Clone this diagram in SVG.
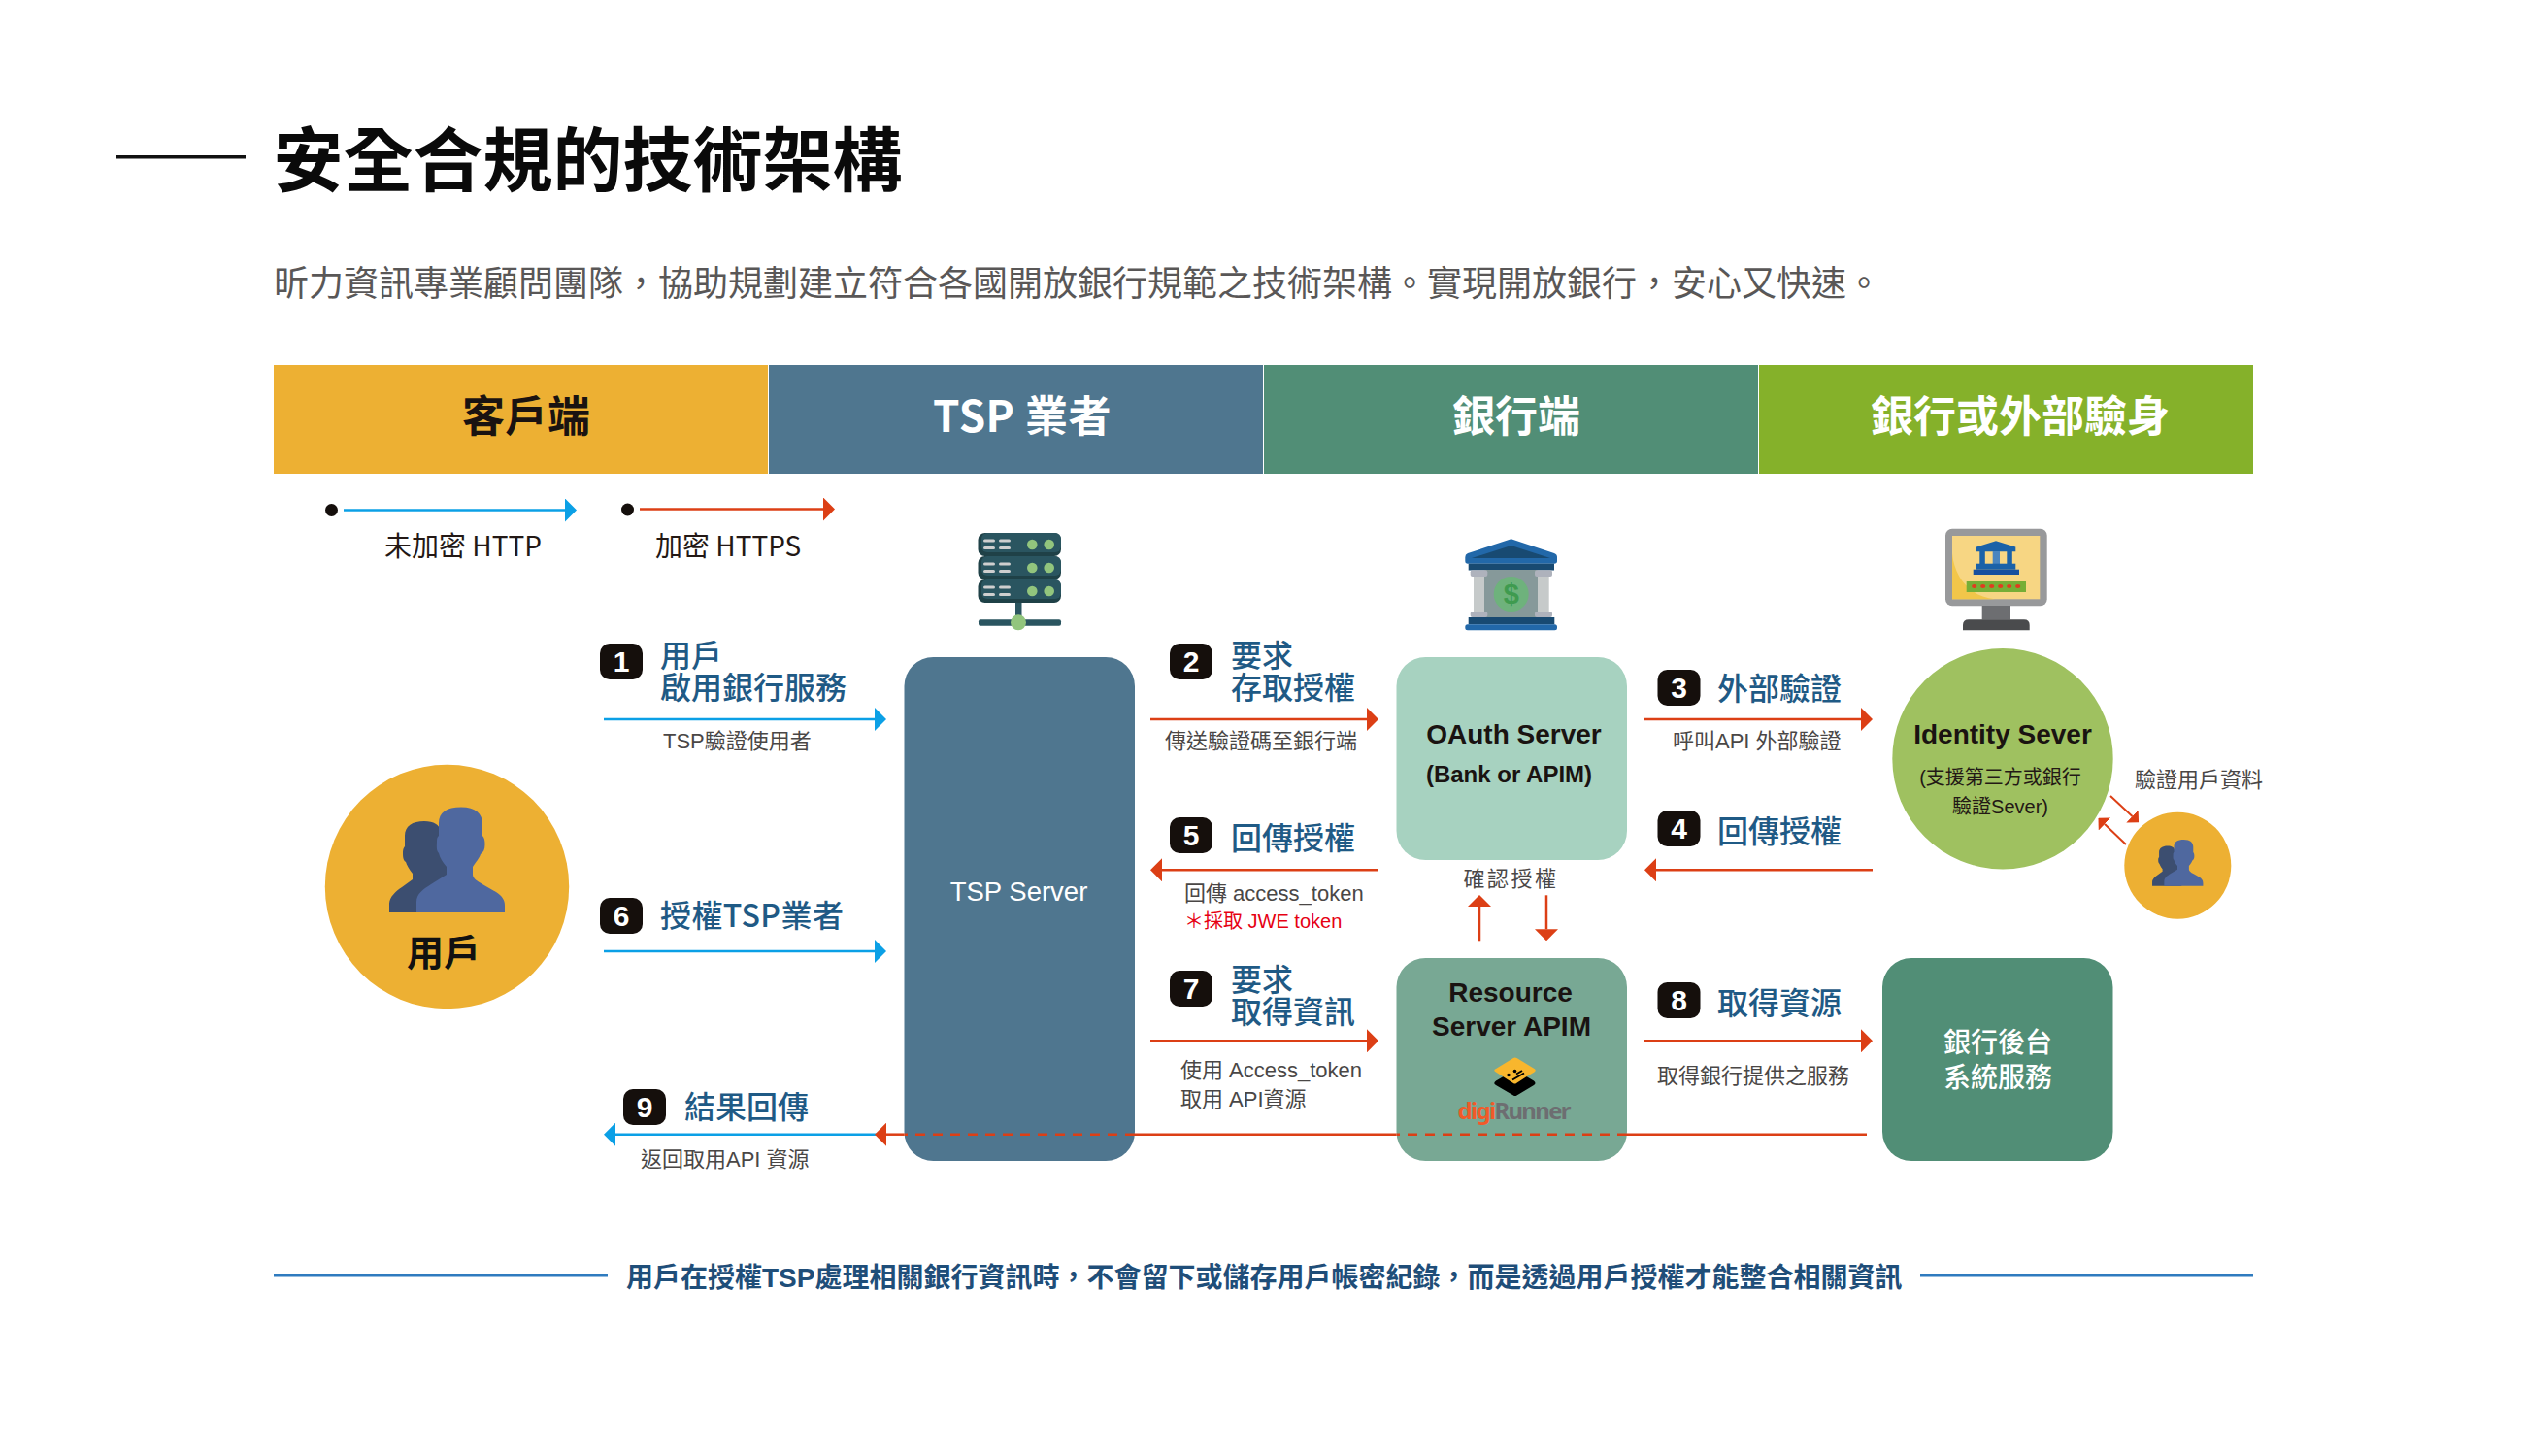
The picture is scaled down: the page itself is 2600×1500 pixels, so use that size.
<svg xmlns="http://www.w3.org/2000/svg" width="2600" height="1500" viewBox="0 0 2600 1500">
<style>
text{font-family:"Liberation Sans","Noto Sans CJK TC",sans-serif}
.cjk{font-family:"Noto Sans CJK TC","Noto Sans",sans-serif}
.mid{text-anchor:middle}
.hdr{font-size:44px;font-weight:700;text-anchor:middle;font-family:"Noto Sans CJK TC","Noto Sans",sans-serif}
.lab{font-size:32px;font-weight:500;fill:#1F5A85;font-family:"Noto Sans CJK TC","Noto Sans",sans-serif}
.sub{font-size:22px;fill:#4A4746}
.num{font-size:30px;font-weight:700;fill:#fff;text-anchor:middle}
.badge{fill:#150F0C}
.blk{font-size:28px;font-weight:700;fill:#1A1311;text-anchor:middle}
.b{stroke:#0BA0E6;stroke-width:2.5;fill:none}
.r{stroke:#DC3F15;stroke-width:2.5;fill:none}
.rt{stroke:#DC3F15;stroke-width:2;fill:none}
.dash{stroke-dasharray:10 8}
</style>
<defs>
<marker id="hb" markerUnits="userSpaceOnUse" markerWidth="12" markerHeight="24" viewBox="0 0 12 24" refX="0" refY="12" orient="auto"><path d="M0,0L12,12L0,24Z" fill="#0BA0E6"/></marker>
<marker id="hr" markerUnits="userSpaceOnUse" markerWidth="12" markerHeight="24" viewBox="0 0 12 24" refX="0" refY="12" orient="auto"><path d="M0,0L12,12L0,24Z" fill="#DC3F15"/></marker>
<marker id="hs" markerUnits="userSpaceOnUse" markerWidth="9" markerHeight="18" viewBox="0 0 9 18" refX="0" refY="9" orient="auto"><path d="M0,0L9,9L0,18Z" fill="#DC3F15"/></marker>
<g id="person">
<path fill="#3C4E70" d="M401,940V931C401,924 408,918 414,914L425,906V900C421,895 419,891 418,888C415,886 415,882 415,878C415,875 416,873 417,872V861C417,851 425,846 437,846C447,846 453,850 453,855L470,940Z"/>
<path fill="#4F689F" d="M429,940V929C429,921 436,916 444,911L460,901V893C456,888 453,884 452,879C449,876 450,872 450,866C450,863 451,862 452,861V848C452,837 460,831.5 475,831.5C490,831.5 497,838 497,849V861C499,863 499.5,866 499.5,870C499.5,875 498,878 495,880C494,884 490,888 487,893V901C487,905 492,908 497,911L511,919C517,923 520,927 520,933V940Z"/>
</g>
<g id="rack">
<rect x="1007.5" y="0" width="85.5" height="24" rx="7" fill="#1F4147"/>
<rect x="1011" y="0" width="82" height="20" rx="6" fill="#2A5560"/>
<g fill="#CFCFCF"><rect x="1013" y="6.5" width="12" height="3" rx="1.5"/><rect x="1029" y="6.5" width="12" height="3" rx="1.5"/><rect x="1013" y="14" width="12" height="3" rx="1.5"/><rect x="1029" y="14" width="12" height="3" rx="1.5"/></g>
<circle cx="1063.3" cy="12" r="5.3" fill="#92C57D"/><circle cx="1080.7" cy="12" r="5.3" fill="#92C57D"/>
</g>
</defs>

<rect width="2600" height="1500" fill="#fff"/>

<g id="title">
<rect x="120" y="160" width="133" height="3.5" fill="#111"/>
<text class="cjk" x="281.5" y="191" font-size="72" font-weight="700" fill="#0A0A0A">安全合規的技術架構</text>
<text class="cjk" x="282" y="305" font-size="36" fill="#595757">昕力資訊專業顧問團隊，協助規劃建立符合各國開放銀行規範之技術架構。實現開放銀行，安心又快速。</text>
</g>

<g id="header">
<rect x="282" y="376" width="509" height="112" fill="#EDB033"/>
<rect x="792" y="376" width="509" height="112" fill="#4F768F"/>
<rect x="1302" y="376" width="509" height="112" fill="#518E76"/>
<rect x="1812" y="376" width="509" height="112" fill="#85B12A"/>
<text class="hdr" x="542" y="445" fill="#1A1311">客戶端</text>
<text class="hdr" x="1053" y="445" fill="#fff" style="letter-spacing:.5px">TSP 業者</text>
<text class="hdr" x="1562" y="445" fill="#fff">銀行端</text>
<text class="hdr" x="2081" y="445" fill="#fff">銀行或外部驗身</text>
</g>

<g id="legend">
<circle cx="341.5" cy="525.5" r="6.5" fill="#150F0C"/>
<text class="cjk" x="396" y="573" font-size="28" fill="#231815">未加密 HTTP</text>
<circle cx="646.5" cy="525" r="6.5" fill="#150F0C"/>
<text class="cjk" x="675" y="572.5" font-size="28" fill="#231815">加密 HTTPS</text>
</g>

<g id="user">
<circle cx="460.5" cy="913.5" r="125.7" fill="#EDB033"/>
<use href="#person"/>
<text class="cjk mid" x="457" y="995" font-size="38" font-weight="700" fill="#111">用戶</text>
</g>

<g id="tsp-server">
<use href="#rack" y="549"/><use href="#rack" y="573"/><use href="#rack" y="597"/>
<rect x="1046" y="621" width="6.5" height="20" fill="#2A5560"/>
<rect x="1008" y="638.3" width="85" height="6.5" rx="2" fill="#2A5560"/>
<circle cx="1049" cy="641.3" r="8" fill="#92C57D"/>
<rect x="931.5" y="677" width="237.5" height="519" rx="30" fill="#4F768F"/>
<text class="mid" x="1049.5" y="928" font-size="27.5" fill="#fff">TSP Server</text>
</g>

<g id="oauth-server">
<path fill="#2268A9" d="M1556.7,555.3L1601,570Q1604,571 1604,574V578Q1604,580.7 1601,580.7H1512Q1509.3,580.7 1509.3,578V574Q1509.3,571 1512,570Z"/>
<path fill="#184A72" d="M1556.7,562L1597,575H1516Z"/>
<rect x="1512.7" y="580.7" width="88.3" height="6.8" fill="#184A72"/>
<rect x="1529" y="587" width="55" height="49" fill="#86999A"/>
<rect x="1518" y="594" width="11" height="36" fill="#C6CACA"/><rect x="1584" y="594" width="11.7" height="36" fill="#C6CACA"/>
<g fill="#AEB2BC"><rect x="1514.7" y="587.3" width="17.6" height="6.7" rx="2"/><rect x="1581" y="587.3" width="18" height="6.7" rx="2"/><rect x="1514.7" y="630" width="17.6" height="6" rx="2"/><rect x="1581" y="630" width="18" height="6" rx="2"/></g>
<circle cx="1556.7" cy="612" r="18" fill="#6EB27C"/>
<text class="mid" x="1556.7" y="622" font-size="29" font-weight="700" fill="#3F9B4F">$</text>
<rect x="1512.7" y="636" width="88.6" height="7.3" fill="#184A72"/>
<rect x="1509.3" y="643.3" width="94.7" height="6" rx="2.5" fill="#2268A9"/>
<rect x="1438.5" y="677" width="237.5" height="209" rx="30" fill="#A7D2C0"/>
<text class="blk" x="1559.5" y="766">OAuth Server</text>
<text class="blk" x="1554.5" y="806" style="font-size:24px">(Bank or APIM)</text>
</g>

<g id="resource-server">
<rect x="1438.5" y="987" width="237.5" height="209" rx="30" fill="#78A894"/>
<text class="blk" x="1556" y="1032">Resource</text>
<text class="blk" x="1557" y="1067">Server APIM</text>
<path fill="#000" d="M1560.7,1102L1580,1113.5Q1583,1116 1580,1118L1562.5,1128.5Q1560.7,1129.5 1559,1128.5L1541,1118Q1537.5,1116 1541,1113.5Z"/>
<path fill="#F8B62D" d="M1559,1090Q1560.7,1089 1562.5,1090L1580.5,1101Q1583,1102.7 1580.5,1104.5L1572,1109.5L1562,1116Q1560.7,1117 1559,1116L1541,1104.5Q1537.5,1102.7 1541,1101Z"/>
<path fill="none" stroke="#000" stroke-width="2" d="M1558,1112.5L1570,1105.5M1562,1106.5L1568,1103"/>
<circle cx="1560.5" cy="1103.5" r="1.8" fill="#000"/><circle cx="1554" cy="1107.5" r="1.8" fill="#000"/>
<text x="1501.5" y="1153" font-size="24" font-weight="700" textLength="117" fill="#6D6E71" style="font-family:'Noto Sans',sans-serif"><tspan fill="#F15A29">digi</tspan>Runner</text>
</g>

<g id="identity-server">
<rect x="2004" y="544.7" width="104.7" height="79.6" rx="7" fill="#98999B"/>
<rect x="2011" y="552" width="90.3" height="65.3" fill="#F7D683"/>
<path fill="#F2C64A" d="M2011,570C2013,595 2030,615 2055,617.3H2011Z"/>
<rect x="2041.7" y="624" width="29.3" height="14.5" fill="#6D6E71"/>
<path fill="#4A4B4D" d="M2022,649.3V644Q2022,638.3 2028,638.3H2085Q2090.7,638.3 2090.7,644V649.3Z"/>
<path fill="#1B62A8" d="M2056,557.3L2076.3,563.5V568.3H2036V563.5Z"/>
<rect x="2039.3" y="568" width="5.5" height="13" fill="#1B62A8"/><rect x="2052.7" y="568" width="7.3" height="13" fill="#4A85BF"/><rect x="2067.3" y="568" width="5.5" height="13" fill="#1B62A8"/>
<rect x="2036" y="580.7" width="40.3" height="6" fill="#1B62A8"/>
<rect x="2032.7" y="586.7" width="47.3" height="5.3" fill="#17509F"/>
<rect x="2025.7" y="599" width="61.3" height="11" fill="#76AE36"/>
<g fill="#E23B1F"><ellipse cx="2033.7" cy="604" rx="2.6" ry="2"/><ellipse cx="2042.7" cy="604" rx="2.6" ry="2"/><ellipse cx="2051.7" cy="604" rx="2.6" ry="2"/><ellipse cx="2060.7" cy="604" rx="2.6" ry="2"/><ellipse cx="2069.7" cy="604" rx="2.6" ry="2"/><ellipse cx="2078.7" cy="604" rx="2.6" ry="2"/></g>
<circle cx="2063" cy="781.7" r="113.7" fill="#9FC160"/>
<text class="blk" x="2063" y="766">Identity Sever</text>
<text class="sub mid" x="2060.5" y="808" style="fill:#231815;font-size:20px">(支援第三方或銀行</text>
<text class="sub mid" x="2060.5" y="838" style="fill:#231815;font-size:20px">驗證Sever)</text>
</g>

<g id="external-user">
<circle cx="2243.3" cy="891.7" r="55" fill="#EDB033"/>
<use href="#person" transform="translate(2040.6 499.2) scale(.44)"/>
<text class="sub" x="2199" y="811">驗證用戶資料</text>
</g>

<g id="bank-backend">
<rect x="1939" y="987" width="237.5" height="209" rx="30" fill="#518E76"/>
<text class="cjk mid" x="2058" y="1083.5" font-size="28" font-weight="500" fill="#fff">銀行後台</text>
<text class="cjk mid" x="2058" y="1119.5" font-size="28" font-weight="500" fill="#fff">系統服務</text>
</g>

<g id="connectors">
<line class="b" x1="354" y1="525.5" x2="582" y2="525.5" marker-end="url(#hb)"/>
<line class="r" x1="659" y1="524.5" x2="848" y2="524.5" marker-end="url(#hr)"/>
<line class="b" x1="622" y1="741" x2="901" y2="741" marker-end="url(#hb)"/>
<line class="b" x1="622" y1="980" x2="901" y2="980" marker-end="url(#hb)"/>
<line class="r" x1="1185" y1="741" x2="1408" y2="741" marker-end="url(#hr)"/>
<line class="r" x1="1420" y1="896.3" x2="1197" y2="896.3" marker-end="url(#hr)"/>
<line class="r" x1="1185" y1="1072.3" x2="1408" y2="1072.3" marker-end="url(#hr)"/>
<line class="r" x1="1693.5" y1="741" x2="1917" y2="741" marker-end="url(#hr)"/>
<line class="r" x1="1929" y1="896.3" x2="1706" y2="896.3" marker-end="url(#hr)"/>
<line class="r" x1="1693.5" y1="1072.3" x2="1917" y2="1072.3" marker-end="url(#hr)"/>
<line class="r" x1="1524" y1="969.3" x2="1524" y2="934" marker-end="url(#hr)"/>
<line class="r" x1="1593" y1="922.3" x2="1593" y2="957.3" marker-end="url(#hr)"/>
<line class="rt" x1="2174" y1="820" x2="2196.5" y2="841" marker-end="url(#hs)"/>
<line class="rt" x1="2190" y1="870" x2="2168" y2="849" marker-end="url(#hs)"/>
<line class="b" x1="906" y1="1168.7" x2="634" y2="1168.7" marker-end="url(#hb)"/>
<line class="r" x1="931.5" y1="1168.7" x2="913" y2="1168.7" marker-end="url(#hr)"/>
<line class="r dash" x1="1169" y1="1168.7" x2="931.5" y2="1168.7"/>
<line class="r" x1="1438.5" y1="1168.7" x2="1169" y2="1168.7"/>
<line class="r dash" x1="1676" y1="1168.7" x2="1438.5" y2="1168.7"/>
<line class="r" x1="1923" y1="1168.7" x2="1676" y2="1168.7"/>
</g>

<g id="step-1"><rect class="badge" x="618" y="663" width="44" height="37" rx="10"/><text class="num" x="640" y="692">1</text>
<text class="lab" x="680" y="687">用戶<tspan x="680" dy="33">啟用銀行服務</tspan></text><text class="sub" x="683" y="771">TSP驗證使用者</text></g>
<g id="step-2"><rect class="badge" x="1205" y="663" width="44" height="37" rx="10"/><text class="num" x="1227" y="692">2</text>
<text class="lab" x="1268" y="687">要求<tspan x="1268" dy="33">存取授權</tspan></text><text class="sub" x="1200" y="771">傳送驗證碼至銀行端</text></g>
<g id="step-3"><rect class="badge" x="1707.5" y="690" width="44" height="37" rx="10"/><text class="num" x="1729.5" y="719">3</text>
<text class="lab" x="1769" y="721">外部驗證</text><text class="sub" x="1723" y="771">呼叫API 外部驗證</text></g>
<g id="step-4"><rect class="badge" x="1707.5" y="835" width="44" height="37" rx="10"/><text class="num" x="1729.5" y="864">4</text>
<text class="lab" x="1769" y="868">回傳授權</text></g>
<g id="step-5"><rect class="badge" x="1205" y="842" width="44" height="37" rx="10"/><text class="num" x="1227" y="871">5</text>
<text class="lab" x="1268" y="875">回傳授權</text><text class="sub" x="1220" y="928">回傳 access_token</text><text class="sub" x="1220" y="956" style="fill:#E60012;font-size:20px">＊採取 JWE token</text></g>
<g id="step-6"><rect class="badge" x="618" y="925" width="44" height="37" rx="10"/><text class="num" x="640" y="954">6</text>
<text class="lab" x="680" y="955" style="letter-spacing:.4px">授權TSP業者</text></g>
<g id="step-7"><rect class="badge" x="1205" y="1000" width="44" height="37" rx="10"/><text class="num" x="1227" y="1029">7</text>
<text class="lab" x="1268" y="1020.5">要求<tspan x="1268" dy="33">取得資訊</tspan></text><text class="sub" x="1216" y="1110">使用 Access_token</text><text class="sub" x="1216" y="1140">取用 API資源</text></g>
<g id="step-8"><rect class="badge" x="1707.5" y="1012" width="44" height="37" rx="10"/><text class="num" x="1729.5" y="1041">8</text>
<text class="lab" x="1769" y="1044.5">取得資源</text><text class="sub" x="1707" y="1115.5">取得銀行提供之服務</text></g>
<g id="step-9"><rect class="badge" x="642" y="1122" width="44" height="37" rx="10"/><text class="num" x="664" y="1151">9</text>
<text class="lab" x="705" y="1152">結果回傳</text><text class="sub" x="660" y="1201.5">返回取用API 資源</text></g>

<g id="confirm"><text class="sub mid" x="1556.5" y="913" style="letter-spacing:2.5px">確認授權</text></g>

<g id="footer">
<rect x="282" y="1313" width="344" height="2.5" fill="#2F7BBF"/>
<rect x="1978" y="1313" width="343" height="2.5" fill="#2F7BBF"/>
<text x="645" y="1325.5" font-size="28" font-weight="700" fill="#1F4E79">用戶在授權TSP處理相關銀行資訊時，不會留下或儲存用戶帳密紀錄，而是透過用戶授權才能整合相關資訊</text>
</g>
</svg>
